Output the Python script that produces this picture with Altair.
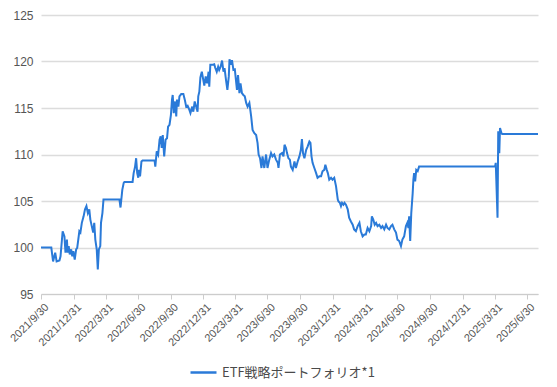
import altair as alt
import pandas as pd

SERIES = "ETF戦略ポートフォリオ*1"
START = "2021-09-30"

# days elapsed since 2021/9/30 and index value (start = 100)
days = [0,29,34,40,44,52,55,61,66,69,73,75,78,81,85,88,91,95,99,102,
        105,108,111,115,120,124,128,132,136,139,143,147,150,153,157,160,163,167,169,173,176,
        221,224,229,233,235,258,261,265,268,271,274,276,279,283,286,
        320,322,326,330,334,337,340,343,347,351,
        355,358,362,366,369,371,374,378,381,383,
        387,390,395,401,405,409,413,418,421,426,
        429,433,437,441,443,446,449,453,457,460,
        464,468,472,474,477,484,488,491,495,499,
        502,506,510,514,517,521,525,529,531,535,
        538,542,546,549,552,555,559,562,566,570,
        574,578,582,587,592,596,601,606,610,613,
        617,621,624,629,634,638,643,648,652,657,
        662,667,669,673,679,683,686,690,693,697,
        701,704,709,714,718,723,728,732,735,738,
        742,747,751,756,759,762,765,770,775,779,
        784,789,793,798,801,805,808,812,817,821,
        826,831,836,838,842,845,848,852,855,859,
        864,868,873,878,882,887,892,897,901,906,
        911,915,920,925,930,932,936,940,944,948,
        953,958,962,967,972,976,981,986,990,995,
        1000,1004,1009,1014,1018,1023,1028,1032,1035,1037,
        1040,1043,1047,1049,1051,1054,1057,1061,1065,1279,
        1281,1286,1288,1291,1293,1297,1299,1400]

values = [100.0,100.0,98.5,99.45,98.5,98.6,99.05,101.75,101.2,99.45,
          100.85,99.45,100.15,99.25,99.8,99.05,99.6,98.7,99.8,99.95,
          100.85,101.75,101.6,102.65,103.35,104.1,104.45,103.7,104.1,103.0,
          102.3,101.6,102.65,100.85,99.8,97.65,99.8,100.15,102.65,103.7,105.15,
          105.15,104.3,106.2,106.95,107.05,107.05,108.0,108.7,109.6,108.0,107.5,108.35,107.65,109.25,109.35,
          109.35,108.7,110.35,110.0,111.6,111.95,110.7,112.1,109.8,111.6,
          111.75,113.0,113.2,114.25,115.9,116.4,114.45,115.7,114.1,115.9,
          115.15,116.25,116.5,116.5,115.9,115.15,115.25,114.8,114.45,115.15,
          114.6,115.7,115.15,114.6,116.25,116.75,118.3,118.9,118.05,117.4,
          118.4,117.65,118.9,117.3,119.65,119.65,119.7,119.3,118.9,119.45,
          119.1,119.45,120.1,118.9,119.3,118.05,116.95,118.4,120.25,119.65,
          120.15,119.1,119.15,118.05,116.95,118.55,116.6,117.65,116.6,116.4,
          116.25,115.55,115.15,115.55,114.1,112.65,112.3,112.1,111.25,110.0,
          109.6,108.55,109.8,108.55,110.0,108.55,109.45,110.15,109.8,110.0,
          109.45,109.1,108.55,110.0,110.15,109.8,111.05,110.7,110.15,109.6,
          109.45,108.7,108.35,109.25,108.55,109.25,109.8,110.5,111.65,110.15,
          109.6,110.5,110.85,111.4,111.25,109.8,109.1,108.55,108.0,107.5,
          107.65,107.65,108.2,108.35,108.9,108.35,108.0,107.3,107.5,107.3,
          107.5,106.6,105.15,104.95,104.8,104.45,104.8,104.6,104.8,104.6,
          104.1,103.2,102.8,102.45,101.95,101.75,102.3,102.65,101.75,101.2,
          101.4,101.4,102.1,101.75,102.3,103.35,103.0,102.45,102.65,102.3,
          102.45,102.1,102.3,101.95,102.45,102.1,101.95,102.3,102.45,101.95,
          101.6,100.85,100.7,100.15,100.85,101.2,102.3,102.65,102.1,103.35,
          100.7,103.7,105.85,107.3,108.0,107.1,108.35,108.2,108.7,108.7,
          109.1,103.2,112.5,110.15,112.85,112.3,112.2,112.2]

tick_dates = [(2021, 9, 30), (2021, 12, 31), (2022, 3, 31), (2022, 6, 30),
              (2022, 9, 30), (2022, 12, 31), (2023, 3, 31), (2023, 6, 30),
              (2023, 9, 30), (2023, 12, 31), (2024, 3, 31), (2024, 6, 30),
              (2024, 9, 30), (2024, 12, 31), (2025, 3, 31), (2025, 6, 30)]
y_ticks = [95, 100, 105, 110, 115, 120, 125]

assert len(days) == len(values)

df = pd.DataFrame({
    "date": pd.Timestamp(START) + pd.to_timedelta(days, unit="D"),
    "value": values,
    "series": SERIES,
})

tick_vals = [alt.DateTime(year=y, month=m, date=d) for (y, m, d) in tick_dates]

chart = alt.Chart(df).mark_line(strokeWidth=2, interpolate="linear").encode(
    x=alt.X("date:T",
            scale=alt.Scale(domain=[alt.DateTime(year=2021, month=9, date=30),
                                    alt.DateTime(year=2025, month=7, date=31)]),
            axis=alt.Axis(values=tick_vals, format="%Y/%-m/%-d", title=None,
                          labelAngle=-45, labelAlign="right", labelBaseline="top",
                          grid=False, domainColor="#cccccc", tickColor="#cccccc",
                          tickSize=5, labelColor="#555555", labelFontSize=11,
                          labelFont="Liberation Sans", labelPadding=2, labelOffset=1.5,
                          labelOverlap=False)),
    y=alt.Y("value:Q",
            scale=alt.Scale(domain=[95, 125], nice=False, zero=False),
            axis=alt.Axis(values=y_ticks, title=None, domain=False, ticks=False,
                          gridColor="#dcdcdc", gridWidth=1.3, labelColor="#555555",
                          labelFontSize=12, labelFont="Liberation Sans",
                          labelPadding=8)),
    color=alt.Color("series:N", scale=alt.Scale(range=["#2a7ad8"]),
                    legend=alt.Legend(title=None, orient="none", legendX=148, legendY=343,
                                      symbolType="stroke", symbolStrokeWidth=2.5,
                                      symbolSize=676, labelFontSize=13,
                                      labelFont="Noto Sans CJK JP", labelColor="#4a4a4a",
                                      labelLimit=400, labelOffset=4)),
).properties(
    width=497, height=279,
    autosize=alt.AutoSizeParams(type="none"),
    padding={"left": 33, "top": 7, "right": 10, "bottom": 85},
).configure_view(stroke=None)

chart.save("out.html", embed_options={"renderer": "svg", "actions": False})
